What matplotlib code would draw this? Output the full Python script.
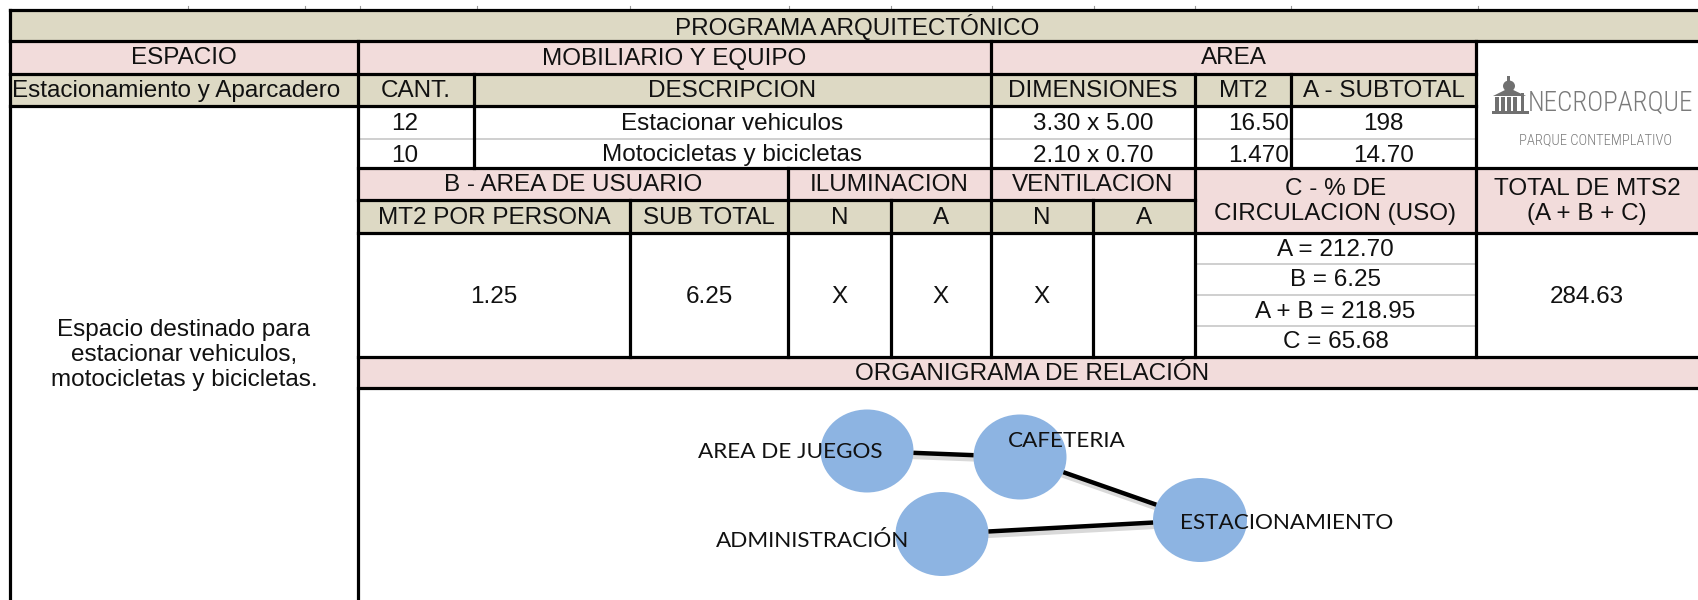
import numpy as np
import matplotlib
matplotlib.use("Agg")
import matplotlib.pyplot as plt
from matplotlib.patches import Rectangle, Ellipse, Polygon

# table content
titulo = "PROGRAMA ARQUITECTÓNICO"
encabezados = ["ESPACIO", "MOBILIARIO Y EQUIPO", "AREA"]
espacio_nombre = "Estacionamiento y Aparcadero"
sub_encabezados = ["CANT.", "DESCRIPCION", "DIMENSIONES", "MT2", "A - SUBTOTAL"]
espacio_desc = "Espacio destinado para\nestacionar vehiculos,\nmotocicletas y bicicletas."
cantidades = ["12", "10"]
descripciones = ["Estacionar vehiculos", "Motocicletas y bicicletas"]
dimensiones = ["3.30 x 5.00", "2.10 x 0.70"]
mt2 = ["16.50", "1.470"]
subtotal_a = ["198", "14.70"]
grupos_b = ["B - AREA DE USUARIO", "ILUMINACION", "VENTILACION"]
sub_b = ["MT2 POR PERSONA", "SUB TOTAL", "N", "A", "N", "A"]
valores_b = ["1.25", "6.25", "X", "X", "X", ""]
circ_titulo = "C - % DE\nCIRCULACION (USO)"
circulacion = ["A = 212.70", "B = 6.25", "A + B = 218.95", "C = 65.68"]
total_titulo = "TOTAL DE MTS2\n(A + B + C)"
total = "284.63"
organigrama = "ORGANIGRAMA DE RELACIÓN"
nodos = ["AREA DE JUEGOS", "CAFETERIA", "ADMINISTRACIÓN", "ESTACIONAMIENTO"]
relaciones = [(0, 1), (1, 3), (2, 3)]

# layout (pixels)
W, H = 1698, 600
X0, XE, XC, XD, XM, XS, XL = 10, 358, 474, 991, 1195, 1291, 1476
XB1, XB2, XN, XV = 630, 788, 891, 1093
rows = [10, 41, 74, 106, 139, 168, 200, 233, 357, 388]
nodo_xy = [(867, 451), (1020, 457), (942, 534), (1200, 520)]
nodo_wh = [(93, 83), (93, 85), (93, 84), (94, 84)]
label_xy = [(698, 452), (1008, 441), (716, 541), (1180, 523)]

BEIGE = "#DDD9C4"
PINK = "#F2DCDB"
BLUE = "#8DB4E2"
GRIS = "#CBCBCB"
LW = 2.3
FONT = ["Liberation Sans", "DejaVu Sans"]
FS = 17.5

fig = plt.figure(figsize=(W / 100, H / 100), dpi=100)
ax = fig.add_axes([0, 0, 1, 1])
ax.set_xlim(0, W)
ax.set_ylim(H, 0)
ax.axis("off")


def cell(x0, x1, y0, y1, color):
    ax.add_patch(Rectangle((x0, y0), x1 - x0, y1 - y0, facecolor=color, edgecolor="none", zorder=1))


def hline(y, x0, x1, color="black", lw=LW):
    ax.plot([x0, x1], [y, y], color=color, lw=lw, solid_capstyle="projecting", zorder=3)


def vline(x, y0, y1, color="black", lw=LW):
    ax.plot([x, x], [y0, y1], color=color, lw=lw, solid_capstyle="projecting", zorder=3)


def txt(x, y, s, ha="center", va="center", size=FS, **kw):
    ax.text(x, y, s, ha=ha, va=va, fontsize=size, family=FONT, color="#111111", zorder=5, **kw)


# backgrounds
cell(X0, W, rows[0], rows[1], BEIGE)
cell(X0, XL, rows[1], rows[2], PINK)
cell(X0, XL, rows[2], rows[3], BEIGE)
cell(XE, W, rows[5], rows[6], PINK)
cell(XE, XM, rows[6], rows[7], BEIGE)
cell(XM, W, rows[6], rows[7], PINK)
cell(XE, W, rows[8], rows[9], PINK)

# faint column marks above the table
for x in [188, 305, 360, 477, 630, 789, 891, 992, 1094, 1195, 1291, 1478]:
    ax.plot([x, x], [6, 9], color="#9a9a9a", lw=0.8, zorder=2)

# horizontal rules
hline(rows[0], X0, W)
hline(rows[1], X0, W)
hline(rows[2], X0, XL)
hline(rows[3], X0, XL)
hline(rows[4], XE, XL, color=GRIS, lw=1.3)
hline(rows[5], XE, W)
hline(rows[6], XE, XM)
hline(rows[7], XE, W)
hline(rows[8], XE, W)
hline(rows[9], XE, W)
sub_h = (rows[8] - rows[7]) / len(circulacion)
for i in range(1, len(circulacion)):
    hline(rows[7] + i * sub_h, XM, XL, color=GRIS, lw=1.3)

# vertical rules
vline(X0, rows[0], H)
vline(XE, rows[1], H)
vline(XD, rows[1], rows[5])
vline(XL, rows[1], rows[8])
vline(XC, rows[2], rows[5])
vline(XM, rows[2], rows[8])
vline(XS, rows[2], rows[5])
vline(XB2, rows[5], rows[8])
vline(XD, rows[5], rows[8])
vline(XB1, rows[6], rows[8])
vline(XN, rows[6], rows[8])
vline(XV, rows[6], rows[8])

# header text
txt(857, (rows[0] + rows[1]) / 2 + 1, titulo)
for (a, b), s in zip([(X0, XE), (XE, XD), (XD, XL)], encabezados):
    txt((a + b) / 2, (rows[1] + rows[2]) / 2 + 1, s)
txt(X0 + 2, (rows[2] + rows[3]) / 2 + 1, espacio_nombre, ha="left")
for (a, b), s in zip([(XE, XC), (XC, XD), (XD, XM), (XM, XS), (XS, XL)], sub_encabezados):
    txt((a + b) / 2, (rows[2] + rows[3]) / 2 + 1, s)

# furniture rows
for i in range(2):
    yc = (rows[3 + i] + rows[4 + i]) / 2 + 2
    txt(405, yc, cantidades[i])
    txt((XC + XD) / 2, yc, descripciones[i])
    txt((XD + XM) / 2, yc, dimensiones[i])
    txt(XS - 2, yc, mt2[i], ha="right")
    txt((XS + XL) / 2, yc, subtotal_a[i])

txt((X0 + XE) / 2, 355, espacio_desc, linespacing=1.15)

# user area block
for (a, b), s in zip([(XE, XB2), (XB2, XD), (XD, XM)], grupos_b):
    txt((a + b) / 2, (rows[5] + rows[6]) / 2 + 1, s)
cols_b = [XE, XB1, XB2, XN, XD, XV, XM]
for i, s in enumerate(sub_b):
    txt((cols_b[i] + cols_b[i + 1]) / 2, (rows[6] + rows[7]) / 2 + 1, s)
    txt((cols_b[i] + cols_b[i + 1]) / 2, (rows[7] + rows[8]) / 2 + 2, valores_b[i])
txt((XM + XL) / 2, (rows[5] + rows[7]) / 2 + 1, circ_titulo, linespacing=1.12)
txt((XL + W) / 2, (rows[5] + rows[7]) / 2 + 1, total_titulo, linespacing=1.12)
for i, s in enumerate(circulacion):
    txt((XM + XL) / 2, rows[7] + (i + 0.5) * sub_h + 1, s)
txt((XL + W) / 2, (rows[7] + rows[8]) / 2 + 2, total)
txt(1032, (rows[8] + rows[9]) / 2 + 1, organigrama)

# logo
g = "#707070"
ax.add_patch(Ellipse((1509, 86), 12, 11, facecolor=g, edgecolor="none", zorder=4))
ax.add_patch(Rectangle((1507.5, 76), 3, 6, facecolor=g, edgecolor="none", zorder=4))
ax.add_patch(Polygon([[1493, 96], [1509, 88], [1526, 96]], closed=True, facecolor=g, edgecolor="none", zorder=4))
for cx in [1495, 1501, 1507, 1513]:
    ax.add_patch(Rectangle((cx, 97), 4, 14, facecolor=g, edgecolor="none", zorder=4))
ax.add_patch(Rectangle((1521, 93), 3, 18, facecolor=g, edgecolor="none", zorder=4))
ax.add_patch(Rectangle((1492, 111), 37, 3, facecolor=g, edgecolor="none", zorder=4))
logo_font = ["Liberation Sans Narrow", "Roboto Condensed", "Roboto", "DejaVu Sans"]
ax.text(1528, 103, "NECROPARQUE", ha="left", va="center", fontsize=19.5, color="#7a7a7a",
        family=logo_font, fontweight="light", zorder=5)
ax.text(1596, 140, "PARQUE CONTEMPLATIVO", ha="center", va="center", fontsize=10.5, color="#7a7a7a",
        family=logo_font, fontweight="light", zorder=5)


# relation diagram
def borde(i, j):
    (x1, y1), (x2, y2) = nodo_xy[i], nodo_xy[j]
    ang = np.arctan2(y2 - y1, x2 - x1)
    w, h = nodo_wh[i]
    a, b = w / 2, h / 2
    r = a * b / np.hypot(b * np.cos(ang), a * np.sin(ang))
    return x1 + r * np.cos(ang), y1 + r * np.sin(ang)


for i, j in relaciones:
    p = borde(i, j)
    q = borde(j, i)
    ax.plot([p[0] + 2, q[0] + 2], [p[1] + 3, q[1] + 3], color="#000000", alpha=0.15, lw=5, zorder=2)
    ax.plot([p[0], q[0]], [p[1], q[1]], color="black", lw=3.2, zorder=3, solid_capstyle="butt")

for (x, y), (w, h) in zip(nodo_xy, nodo_wh):
    ax.add_patch(Ellipse((x, y), w, h, facecolor=BLUE, edgecolor="none", zorder=2.5))

for (x, y), s in zip(label_xy, nodos):
    ax.text(x, y, s, ha="left", va="center", fontsize=16.2, family=["Lato", "DejaVu Sans"],
            color="#111111", zorder=5)

fig.savefig("out.png", dpi=100)
